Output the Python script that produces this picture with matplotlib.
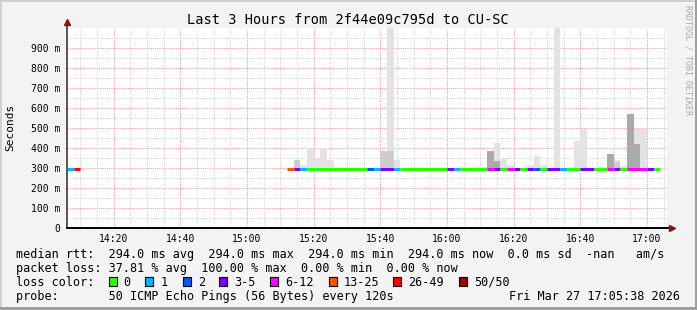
import matplotlib.pyplot as plt
from matplotlib.patches import Rectangle

title = "Last 3 Hours from 2f44e09c795d to CU-SC"
start_clock = "14:06"
span_min = 180
x_ticks = ["14:20", "14:40", "15:00", "15:20", "15:40", "16:00", "16:20", "16:40", "17:00"]
y_ticks = [0, 100, 200, 300, 400, 500, 600, 700, 800, 900]

loss_labels = ["0", "1", "2", "3-5", "6-12", "13-25", "26-49", "50/50"]
loss_colors = ["#26ff00", "#00b8ff", "#0059ff", "#7e00ff", "#ff00ff", "#ff5500", "#ff0000", "#a10000"]

# median rtt line, coloured by loss bucket (index into loss_labels)
median_ms = 294.0
seg_start = ["14:06", "14:08", "15:12", "15:14", "15:16", "15:18", "15:36", "15:38", "15:40", "15:44",
             "15:46", "16:00", "16:02", "16:04", "16:12", "16:14", "16:16", "16:18", "16:20", "16:22",
             "16:24", "16:26", "16:28", "16:30", "16:34", "16:36", "16:40", "16:44", "16:48", "16:50",
             "16:52", "16:54", "17:00", "17:02"]
seg_end = ["14:08", "14:10", "15:14", "15:16", "15:18", "15:36", "15:38", "15:40", "15:44", "15:46",
           "16:00", "16:02", "16:04", "16:12", "16:14", "16:16", "16:18", "16:20", "16:22", "16:24",
           "16:26", "16:28", "16:30", "16:34", "16:36", "16:40", "16:44", "16:48", "16:50", "16:52",
           "16:54", "17:00", "17:02", "17:04"]
seg_loss = [1, 6, 5, 3, 1, 0, 2, 1, 3, 1,
            0, 3, 1, 0, 4, 3, 0, 4, 3, 0,
            3, 2, 0, 3, 1, 0, 3, 0, 4, 3,
            0, 4, 3, 0]

# smoke (ping spread), top of each band in ms
light_times = ["15:16", "15:18", "15:20", "15:22", "15:24", "15:42", "15:44", "16:08", "16:10", "16:14",
               "16:16", "16:18", "16:24", "16:26", "16:28", "16:32", "16:38", "16:40", "16:50", "16:52",
               "16:56", "16:58"]
light_top = [313, 398, 348, 398, 338, 1050, 338, 306, 306, 424,
             345, 313, 313, 358, 313, 1050, 433, 496, 338, 308,
             497, 497]
mid_times = ["15:14", "15:40", "15:42", "16:50"]
mid_top = [338, 383, 383, 328]
dark_times = ["16:12", "16:14", "16:48", "16:54", "16:56"]
dark_top = [383, 335, 370, 572, 418]

stats_line = "median rtt:  294.0 ms avg  294.0 ms max  294.0 ms min  294.0 ms now  0.0 ms sd  -nan   am/s"
loss_line = "packet loss: 37.81 % avg  100.00 % max  0.00 % min  0.00 % now"
probe_line = "probe:       50 ICMP Echo Pings (56 Bytes) every 120s"
stamp = "Fri Mar 27 17:05:38 2026"


def mins(hhmm):
    h, m = hhmm.split(":")
    h0, m0 = start_clock.split(":")
    return int(h) * 60 + int(m) - (int(h0) * 60 + int(m0))


W, H = 697, 310
MONO = "DejaVu Sans Mono"


def fx(x):
    return x / W


def fy(y):
    return 1 - y / H


fig = plt.figure(figsize=(W / 100, H / 100), dpi=100, facecolor="#f3f3f3")
ax = fig.add_axes([fx(67), fy(228), 600 / W, 200 / H])
ax.set_facecolor("white")
ax.set_xlim(0, span_min)
ax.set_ylim(0, 1000)

# grid
dots = (0, (1, 1))
for m in range(4, span_min, 5):
    major = (m - 14) % 20 == 0
    ax.axvline(m, color="#f0a0a0" if major else "#d4d4d4", lw=0.75, ls=dots, zorder=0)
for v in range(50, 1000, 50):
    major = v % 100 == 0
    ax.axhline(v, color="#f0a0a0" if major else "#d4d4d4", lw=0.75, ls=dots, zorder=0)

# smoke
ax.bar([mins(t) for t in light_times], [v - median_ms for v in light_top], bottom=median_ms,
       width=2, align="edge", color="#e3e3e3", lw=0, zorder=2)
ax.bar([mins(t) for t in mid_times], [v - median_ms for v in mid_top], bottom=median_ms,
       width=2, align="edge", color="#cdcdcd", lw=0, zorder=3)
ax.bar([mins(t) for t in dark_times], [v - median_ms for v in dark_top], bottom=median_ms,
       width=2, align="edge", color="#aaaaaa", lw=0, zorder=3)

# median line by loss
for s, e, l in zip(seg_start, seg_end, seg_loss):
    ax.hlines(median_ms, mins(s), mins(e), colors=loss_colors[l], lw=2.2, zorder=4)

# axes
for sp in ax.spines.values():
    sp.set_visible(False)
ax.plot([0, 0], [0, 1.02], transform=ax.transAxes, color="#555555", lw=1.4, clip_on=False, zorder=5)
ax.plot([0, 1.002], [0, 0], transform=ax.transAxes, color="black", lw=1.4, clip_on=False, zorder=5)
ax.plot([0], [1.028], transform=ax.transAxes, marker="^", ms=4, color="#8b1010", clip_on=False, zorder=6)
ax.plot([1.008], [0], transform=ax.transAxes, marker=">", ms=4, color="#8b1010", clip_on=False, zorder=6)

ax.set_xticks([mins(t) for t in x_ticks])
ax.set_xticklabels(x_ticks, family=MONO, fontsize=7)
ax.set_yticks(y_ticks)
ax.set_yticklabels(["0"] + [f"{v} m" for v in y_ticks[1:]], family=MONO, fontsize=7)
ax.tick_params(axis="x", length=0, pad=4)
ax.tick_params(axis="y", length=0, pad=5)

fig.text(fx(10), fy(127), "Seconds", rotation=90, ha="center", va="center", family=MONO, fontsize=8)
fig.text(fx(348), fy(24), title, ha="center", va="baseline", family=MONO, fontsize=9.8)
fig.text(fx(688), fy(60), "RRDTOOL / TOBI OETIKER", rotation=270, ha="center", va="center",
         family=MONO, fontsize=6, color="#aaaaaa")

# legend block
fig.text(fx(16), fy(258.3), stats_line, va="baseline", family=MONO, fontsize=8.5)
fig.text(fx(16), fy(272.3), loss_line, va="baseline", family=MONO, fontsize=8.5)
fig.text(fx(16), fy(285.7), "loss color:", va="baseline", family=MONO, fontsize=8.5)
box_x = [108.7, 145.3, 182.7, 219.3, 270, 328.7, 393.3, 458.7]
for bx, lab, c in zip(box_x, loss_labels, loss_colors):
    fig.add_artist(Rectangle((fx(bx), fy(286)), 8 / W, 9.5 / H, transform=fig.transFigure,
                             facecolor=c, edgecolor="black", lw=0.8))
    fig.text(fx(bx + 15), fy(285.7), lab, va="baseline", family=MONO, fontsize=8.5)
fig.text(fx(16), fy(300.3), probe_line, va="baseline", family=MONO, fontsize=8.5)
fig.text(fx(680), fy(300.3), stamp, ha="right", va="baseline", family=MONO, fontsize=8.5)

# frame shading
fig.add_artist(Rectangle((0, fy(2)), 1, 2 / H, transform=fig.transFigure, color="#d0d0d0", lw=0))
fig.add_artist(Rectangle((0, 0), 2 / W, 1, transform=fig.transFigure, color="#d0d0d0", lw=0))
fig.add_artist(Rectangle((0, 0), 1, 3 / H, transform=fig.transFigure, color="#9e9e9e", lw=0))
fig.add_artist(Rectangle((fx(695), 0), 2 / W, 1, transform=fig.transFigure, color="#9e9e9e", lw=0))

fig.savefig("out.png", dpi=100, facecolor=fig.get_facecolor())
